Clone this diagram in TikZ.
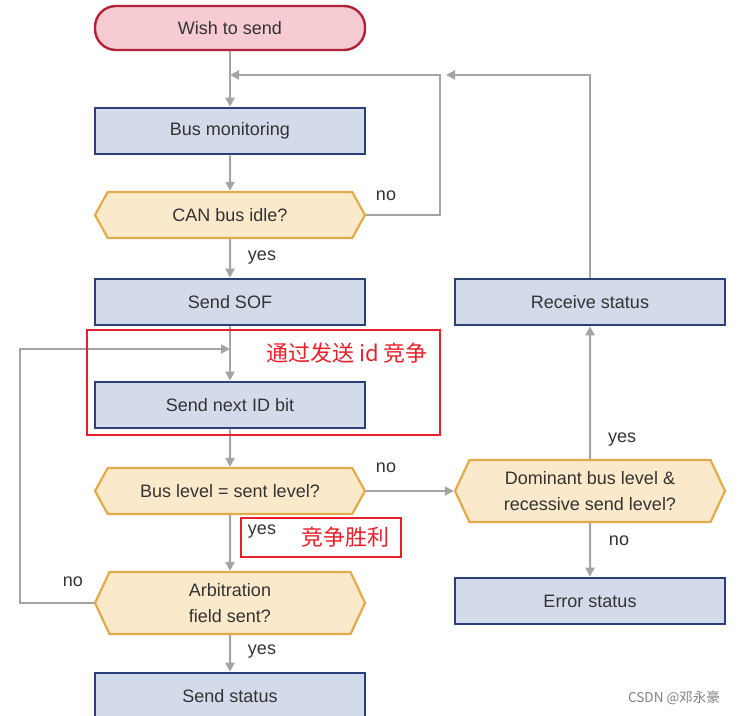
\documentclass[tikz,border=0pt]{standalone}
\usepackage{fontspec}
\setmainfont{Liberation Sans}
\newfontfamily\cjk{Noto Sans CJK SC}
\usetikzlibrary{arrows.meta, shapes.symbols, positioning, calc}

\definecolor{procfill}{HTML}{D3DBEB}
\definecolor{procline}{HTML}{2B3F78}
\definecolor{decfill}{HTML}{FBE9CB}
\definecolor{decline}{HTML}{E2AB4A}
\definecolor{termfill}{HTML}{F6CBD2}
\definecolor{termline}{HTML}{B3213A}
\definecolor{flowgray}{HTML}{A4A4A4}
\definecolor{txt}{HTML}{333333}
\definecolor{notered}{HTML}{E8202A}

\begin{document}
\begin{tikzpicture}[x=1pt, y=-1pt,
    proc/.style={draw=procline, fill=procfill, line width=2.6pt, minimum width=270pt,
        minimum height=46pt, font=\fontsize{18}{20}\selectfont, text=txt},
    decide/.style={signal, signal to=east and west, signal pointer angle=122,
        draw=decline, fill=decfill, line width=2.2pt, minimum width=270pt,
        minimum height=46pt, inner sep=1pt, align=center,
        font=\fontsize{18}{26}\selectfont, text=txt},
    term/.style={draw=termline, fill=termfill, line width=2.4pt, rounded corners=21pt,
        minimum width=270pt, minimum height=44pt, font=\fontsize{18}{20}\selectfont, text=txt},
    lbl/.style={font=\fontsize{18}{20}\selectfont, text=txt},
    flow/.style={draw=flowgray, line width=2pt, -{Triangle[length=9pt, width=9pt]}},
    redbox/.style={draw=notered, line width=1.8pt, inner sep=0pt},
    redtxt/.style={text=notered, font=\cjk\fontsize{22}{24}\selectfont}
]
    \clip (0,0) rectangle (739,715);

    % left column
    \node[term] (wish) at (230,28) {Wish to send};
    \node[proc] (busmon) at (230,131) {Bus monitoring};
    \node[decide] (idle) at (230,215) {CAN bus idle?};
    \node[proc] (sof) at (230,302) {Send SOF};
    \node[proc] (idbit) at (230,405) {Send next ID bit};
    \node[decide] (lvl) at (230,491) {Bus level = sent level?};
    \node[decide, minimum height=62pt, signal pointer angle=130] (arb) at (230,603) {Arbitration\\field sent?};
    \node[proc] (sendst) at (230,696) {Send status};

    % right column
    \node[proc] (recv) at (590,302) {Receive status};
    \node[decide, minimum height=62pt, signal pointer angle=130] (dom) at (590,491) {Dominant bus level \&\\recessive send level?};
    \node[proc] (err) at (590,601) {Error status};

    % bends of the loops
    \coordinate (loopR) at (440,75);
    \coordinate (merge1) at (230,75);
    \coordinate (merge1b) at (446,75);
    \coordinate (loopL) at (20,349);
    \coordinate (merge2) at (230,349);

    \draw[flow] (wish) -- (busmon);
    \draw[flow] (busmon) -- (idle);
    \draw[flow] (idle.east) -| (loopR) -- (merge1);
    \draw[flow] (idle) -- (sof);
    \draw[flow] (sof) -- (idbit);
    \draw[flow] (arb.west) -| (loopL) -- (merge2);
    \draw[flow] (idbit) -- (lvl);
    \draw[flow] (lvl) -- (arb);
    \draw[flow] (arb) -- (sendst);
    \draw[flow] (lvl.east) -- (dom.west);
    \draw[flow] (dom) -- (recv);
    \draw[flow] (recv.north) |- (merge1b);
    \draw[flow] (dom) -- (err);

    % yes / no
    \node[lbl] (noidle) at (386,196) {no};
    \node[lbl] (yesidle) at (262,258) {yes};
    \node[lbl] (nolvl) at (386,468) {no};
    \node[lbl] (yeslvl) at (262,532) {yes};
    \node[lbl] (noarb) at (73,582) {no};
    \node[lbl] (yesarb) at (262,652) {yes};
    \node[lbl] (yesdom) at (622,440) {yes};
    \node[lbl] (nodom) at (619,541) {no};

    % notes
    \node[redbox, minimum width=353pt, minimum height=105pt] (idzone) at (263.5,382.5) {};
    \node[redtxt] (idnote) at (347,353) {通过发送 id 竞争};
    \node[redbox, minimum width=160pt, minimum height=39pt] (winzone) at (321,537.5) {};
    \node[redtxt] (winnote) at (345,537) {竞争胜利};

    \node[text=gray, font=\cjk\fontsize{13.5}{15}\selectfont] (mark) at (674,698) {CSDN @邓永豪};
\end{tikzpicture}
\end{document}
